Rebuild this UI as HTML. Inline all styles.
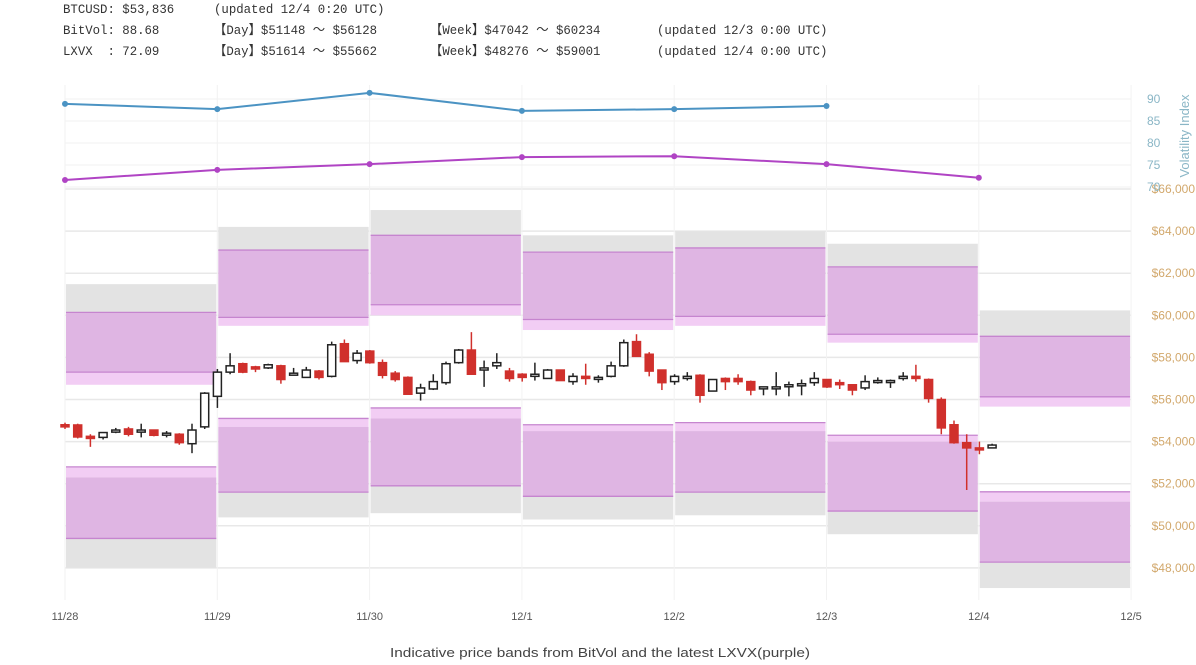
<!DOCTYPE html>
<html><head><meta charset="utf-8"><style>
body{margin:0;background:#fff;width:1196px;height:665px;overflow:hidden;position:relative;font-family:"Liberation Sans",sans-serif}
.hd{position:absolute;font-family:"Liberation Mono","Noto Sans CJK JP",monospace;font-size:13px;line-height:16px;height:16px;color:#333;white-space:pre;transform:scaleX(0.95);transform-origin:left}
</style></head><body>
<div>
<div class="hd" style="left:63px;top:2px">BTCUSD: $53,836</div>
<div class="hd" style="left:214px;top:2px">(updated 12/4 0:20 UTC)</div>
<div class="hd" style="left:63px;top:23px">BitVol: 88.68</div>
<div class="hd" style="left:214px;top:23px">【Day】$51148 ～ $56128</div>
<div class="hd" style="left:430px;top:23px">【Week】$47042 ～ $60234</div>
<div class="hd" style="left:657px;top:23px">(updated 12/3 0:00 UTC)</div>
<div class="hd" style="left:63px;top:44px">LXVX  : 72.09</div>
<div class="hd" style="left:214px;top:44px">【Day】$51614 ～ $55662</div>
<div class="hd" style="left:430px;top:44px">【Week】$48276 ～ $59001</div>
<div class="hd" style="left:657px;top:44px">(updated 12/4 0:00 UTC)</div>
</div>
<svg id="chart" width="1196" height="665" style="position:absolute;left:0;top:0"></svg>
<script>
const dayLabels=['11/28','11/29','11/30','12/1','12/2','12/3','12/4','12/5'];
const priceTicks=[48000,50000,52000,54000,56000,58000,60000,62000,64000,66000];
const volTicks=[70,75,80,85,90];
const bitvolSeries=[88.9,87.7,91.4,87.3,87.7,88.4];
const lxvxSeries=[71.6,73.9,75.2,76.8,77.0,75.2,72.1];
const grayHi=[61480,64200,65000,63800,64000,63400,60234];
const lxWeekHi=[60140,63100,63800,63000,63200,62300,59001];
const bvDayHi=[57300,59900,60500,59800,59950,59100,56128];
const lxDayHi=[56700,59500,60000,59300,59500,58700,55662];
const lxDayLo=[52800,55100,55600,54800,54900,54300,51614];
const bvDayLo=[52300,54700,55100,54500,54500,54000,51148];
const lxWeekLo=[49400,51600,51900,51400,51600,50700,48276];
const grayLo=[48000,50400,50600,50300,50500,49600,47042];
const cOpen=[54800,54790,54250,54200,54450,54600,54450,54550,54350,54350,53900,54700,56150,57300,57700,57550,57500,57600,57200,57050,57350,57100,58650,57850,58300,57750,57250,57050,56300,56500,56800,57750,58350,57400,57600,57350,57200,57100,57000,57400,56850,57100,57000,57100,57600,58750,58150,57400,56850,57000,57150,56400,57000,57000,56850,56550,56550,56650,56650,56800,56950,56800,56700,56550,56850,56850,57000,57100,56950,56000,54800,53950,53700,53700];
const cClose=[54700,54220,54150,54430,54550,54350,54550,54300,54400,53950,54550,56300,57300,57600,57300,57450,57650,56950,57250,57400,57050,58600,57800,58200,57750,57150,56950,56250,56550,56850,57700,58350,57200,57500,57750,57000,57050,57200,57400,56900,57100,57000,57050,57600,58700,58050,57350,56800,57100,57100,56200,56950,56850,56850,56450,56600,56600,56700,56750,57000,56600,56750,56450,56850,56900,56900,57100,57000,56050,54650,53950,53700,53650,53836];
const cHigh=[54900,54850,54350,54450,54650,54700,54850,54550,54500,54400,54850,56350,57450,58200,57750,57600,57700,57650,57500,57550,57400,58750,58850,58350,58350,57900,57350,57100,56750,57200,57800,58400,59200,57850,58200,57500,57250,57750,57450,57400,57250,57700,57150,57800,58850,59100,58250,57400,57200,57300,57200,56950,57050,57200,56900,56600,57300,56850,56950,57300,56950,56950,56700,57150,57050,56950,57300,57650,57000,56100,55000,54350,54000,53900];
const cLow=[54600,54150,53750,54100,54400,54250,54200,54250,54200,53850,53450,54600,55600,57200,57250,57300,57450,56750,57150,57050,56950,57050,57800,57700,57700,57000,56850,56250,55950,56450,56700,57700,57200,56600,57450,56850,56850,56900,57000,56900,56700,56700,56800,57050,57550,58050,57100,56450,56700,56900,55850,56400,56450,56700,56200,56200,56200,56150,56200,56650,56550,56500,56200,56450,56750,56550,56900,56850,55850,54350,53900,51700,53400,53700];

const svg=document.getElementById('chart');const NS='http://www.w3.org/2000/svg';
const X0=65,DAY=152.3,PY0=189,PPK=21.05;
const xd=d=>X0+d*DAY;
const yp=p=>PY0+(66000-p)/1000*PPK;
const yv=v=>99+(90-v)*4.4;
function mk(tag,at,parent){const e=document.createElementNS(NS,tag);for(const k in at)e.setAttribute(k,at[k]);(parent||svg).appendChild(e);return e;}
const grid=mk('g',{});


priceTicks.forEach(p=>{mk('line',{x1:X0,x2:1131,y1:yp(p),y2:yp(p),stroke:'#e8e8e8','stroke-width':1.5},grid);});
volTicks.forEach(v=>{mk('line',{x1:X0,x2:1131,y1:yv(v),y2:yv(v),stroke:'#f0f0f0','stroke-width':1},grid);});
dayLabels.forEach((d,i)=>{mk('line',{x1:xd(i),x2:xd(i),y1:85,y2:600,stroke:'#f2f2f2','stroke-width':1},grid);});
const bands=mk('g',{});


function rect(x1,x2,p1,p2,fill,g){return mk('rect',{x:x1,y:yp(p1),width:x2-x1,height:yp(p2)-yp(p1),fill:fill},g);}
for(let i=0;i<grayHi.length;i++){
  const g=mk('g',{},bands);
  
  
  const a=xd(i)+1,b=xd(i+1)-1;
  rect(a,b,grayHi[i],lxWeekHi[i],'#e3e3e3',g);
  rect(a,b,lxWeekHi[i],bvDayHi[i],'#dfb5e3',g);
  rect(a,b,bvDayHi[i],lxDayHi[i],'#f2cdf4',g);
  rect(a,b,lxDayLo[i],bvDayLo[i],'#f2cdf4',g);
  rect(a,b,bvDayLo[i],lxWeekLo[i],'#dfb5e3',g);
  rect(a,b,lxWeekLo[i],grayLo[i],'#e3e3e3',g);
  [lxWeekHi[i],bvDayHi[i],lxDayLo[i],lxWeekLo[i]].forEach(p=>mk('line',{x1:a,x2:b,y1:yp(p),y2:yp(p),stroke:'#c685cf','stroke-width':1.3},g));
}
const cg=mk('g',{});


const CW=12.7;
cOpen.forEach((o,i)=>{
  const c=cClose[i],x=X0+i*CW,up=c>=o;const col=up?'#222':'#d0302c';
  const g=mk('g',{},cg);
  
  
  mk('line',{x1:x,x2:x,y1:yp(cHigh[i]),y2:yp(cLow[i]),stroke:col,'stroke-width':1.5},g);
  const t=yp(Math.max(o,c)),h=Math.max(2,Math.abs(yp(o)-yp(c)));
  mk('rect',{x:x-4,y:t,width:8,height:h,fill:up?'#fff':'#d0302c',stroke:col,'stroke-width':1.5},g);
});
function line(vals,color,name){
  const g=mk('g',{});
  
  
  mk('polyline',{points:vals.map((v,i)=>xd(i)+','+yv(v)).join(' '),fill:'none',stroke:color,'stroke-width':2},g);
  vals.forEach((v,i)=>mk('circle',{cx:xd(i),cy:yv(v),r:3,fill:color},g));
}
line(bitvolSeries,'#4b93c3','bitvol-line');
line(lxvxSeries,'#b044c4','lxvx-line');
const ax=mk('g',{});


priceTicks.forEach(p=>{const t=mk('text',{x:1195,y:yp(p)+4,'text-anchor':'end','font-size':12,fill:'#d2a86c'},ax);t.textContent='$'+p.toLocaleString('en-US');});
const vx=mk('g',{});


volTicks.forEach(v=>{const t=mk('text',{x:1147,y:yv(v)+4,'font-size':12,fill:'#8ab6c6'},vx);t.textContent=v;});
const vt=mk('text',{x:0,y:0,transform:'translate(1189,136) rotate(-90)','text-anchor':'middle','font-size':13,fill:'#8ab6c6'});


vt.textContent='Volatility Index';
const xa=mk('g',{});


dayLabels.forEach((d,i)=>{const t=mk('text',{x:xd(i),y:620,'text-anchor':'middle','font-size':11,fill:'#555'},xa);t.textContent=d;});
const cap=mk('text',{x:390,y:657,'font-size':13,fill:'#444',textLength:420,lengthAdjust:'spacingAndGlyphs'});


cap.textContent='Indicative price bands from BitVol and the latest LXVX(purple)';
</script>
</body></html>
